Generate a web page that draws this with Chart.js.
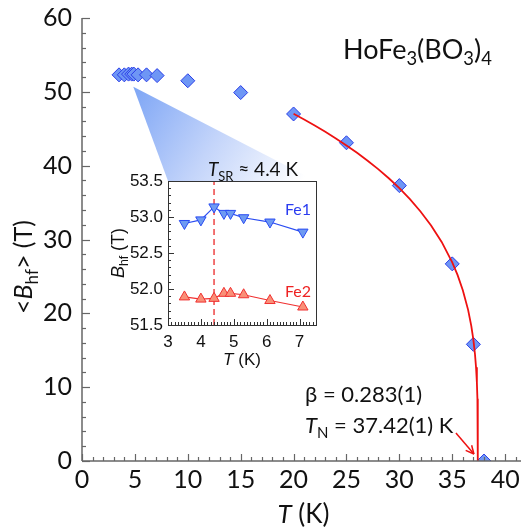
<!DOCTYPE html>
<html><head><meta charset="utf-8">
<script src="https://cdn.jsdelivr.net/npm/chart.js@4.4.1/dist/chart.umd.min.js"></script>
<style>
html,body{margin:0;padding:0;background:#fff;overflow:hidden;}
#wrap{position:relative;width:523px;height:529px;}
#main{position:absolute;left:0;top:0;width:523px;height:529px;}
#inset{position:absolute;left:100px;top:150px;width:230px;height:225px;}
</style></head><body>
<div id="wrap"><canvas id="main" width="523" height="529"></canvas><canvas id="inset" width="230" height="225"></canvas></div>
<script>
// ---- data ----
const mainT = [3.5, 4.0, 4.4, 4.7, 4.9, 5.3, 6.1, 7.1, 10, 15, 20, 25, 30, 35, 37, 38];
const mainB = [52.3, 52.3, 52.4, 52.4, 52.4, 52.3, 52.3, 52.2, 51.5, 49.9, 47.0, 43.1, 37.3, 26.7, 15.8, 0];
// fitted power-law curve (beta = 0.283, TN = 37.42 K)
const fitT = [20, 21, 22, 23, 24, 25, 26, 27, 28, 29, 30, 31, 32, 33, 34, 35, 35.5, 36, 36.5, 36.8, 37, 37.15, 37.25, 37.33, 37.38, 37.41, 37.42];
const fitB = [47.04, 46.26, 45.44, 44.59, 43.69, 42.74, 41.74, 40.67, 39.53, 38.29, 36.95, 35.46, 33.80, 31.91, 29.67, 26.91, 25.20, 23.14, 20.47, 18.30, 16.39, 14.46, 12.69, 10.60, 8.42, 5.69, 0];
const insetT = [3.5, 4.0, 4.4, 4.7, 4.9, 5.3, 6.1, 7.1];
const fe1B = [52.91, 52.96, 53.14, 53.05, 53.05, 52.99, 52.93, 52.79];
const fe2B = [51.89, 51.86, 51.87, 51.94, 51.94, 51.92, 51.84, 51.75];
const mainXTicks = [0, 5, 10, 15, 20, 25, 30, 35, 40];
const mainYTicks = [0, 10, 20, 30, 40, 50, 60];
const insetXTicks = [3, 4, 5, 6, 7];
const insetYTicks = [51.5, 52.0, 52.5, 53.0, 53.5];
const TSR = 4.4;

const FAM = "Lato, 'Open Sans', sans-serif";
const IFAM = "'Liberation Sans', Arial, sans-serif";

function fontFor(p, fs, fam) { const s = p.sub ? fs * 0.68 : fs; return (p.i ? 'italic ' : '') + s + 'px ' + fam; }
function drawRich(ctx, parts, x, y, fs, fam, color, align, rot) {
  ctx.save(); ctx.translate(x, y); if (rot) ctx.rotate(rot);
  ctx.fillStyle = color; ctx.textBaseline = 'alphabetic'; ctx.textAlign = 'left';
  let w = 0;
  for (const p of parts) { ctx.font = fontFor(p, fs, fam); w += ctx.measureText(p.t).width; }
  let cx = align === 'center' ? -w / 2 : (align === 'right' ? -w : 0);
  for (const p of parts) {
    ctx.font = fontFor(p, fs, fam);
    ctx.fillText(p.t, cx, p.sub ? fs * 0.24 : 0);
    cx += ctx.measureText(p.t).width;
  }
  ctx.restore();
}
function line(ctx, x1, y1, x2, y2) { ctx.beginPath(); ctx.moveTo(x1, y1); ctx.lineTo(x2, y2); ctx.stroke(); }

const pts = (xs, ys) => xs.map((x, i) => ({ x: x, y: ys[i] }));

// ---- inset chart ----
const INSET_OFF = { x: 100, y: 150 };
const insetPlugin = {
  id: 'insetDeco',
  beforeDatasetsDraw(chart) {
    const ctx = chart.ctx, a = chart.chartArea, xs = chart.scales.x;
    ctx.save();
    ctx.strokeStyle = '#ee4444'; ctx.lineWidth = 1.5; ctx.setLineDash([6, 4]);
    const px = xs.getPixelForValue(TSR);
    line(ctx, px, a.bottom, px, a.top);
    ctx.restore();
  },
  afterDraw(chart) {
    const ctx = chart.ctx, a = chart.chartArea, xs = chart.scales.x, ys = chart.scales.y;
    ctx.save();
    ctx.strokeStyle = '#333'; ctx.lineWidth = 1;
    ctx.strokeRect(Math.round(a.left) + 0.5, Math.round(a.top) + 0.5, Math.round(a.right - a.left), Math.round(a.bottom - a.top));
    for (let k = 30; k <= 75; k++) {
      const v = k / 10; const px = Math.round(xs.getPixelForValue(v)) + 0.5;
      const L = (k % 10 === 0) ? 6 : 3;
      line(ctx, px, a.bottom, px, a.bottom - L);
    }
    for (let k = 515; k <= 535; k++) {
      const v = k / 10; const py = Math.round(ys.getPixelForValue(v)) + 0.5;
      const L = (k % 5 === 0) ? 6 : 3;
      line(ctx, a.left, py, a.left + L, py);
    }
    ctx.restore();
    const cx = (a.left + a.right) / 2;
    drawRich(ctx, [{ t: 'T', i: true }, { t: 'SR', sub: true }, { t: ' \u2248 4.4 K' }], cx + 11, a.top - 5, 19, FAM, '#111', 'center');
    drawRich(ctx, [{ t: 'Fe1' }], a.left + 117, ys.getPixelForValue(53.05) + 2, 16, FAM, '#2a3cf0', 'left');
    drawRich(ctx, [{ t: 'Fe2' }], a.left + 117, ys.getPixelForValue(51.94) + 4, 16, FAM, '#ee2222', 'left');
    drawRich(ctx, [{ t: 'T', i: true }, { t: ' (K)' }], cx, a.bottom + 40, 17, IFAM, '#111', 'center');
    drawRich(ctx, [{ t: 'B', i: true }, { t: 'hf', sub: true }, { t: ' (T)' }], 24, (a.top + a.bottom) / 2, 18, IFAM, '#111', 'center', -Math.PI / 2);
  }
};
const insetChart = new Chart(document.getElementById('inset'), {
  type: 'scatter',
  data: {
    datasets: [
      { data: pts(insetT, fe1B), showLine: true, borderColor: '#2a4cf2', borderWidth: 1.2, pointStyle: 'triangle', rotation: 180,
        pointRadius: 6, pointBackgroundColor: '#6e9af2', pointBorderColor: '#2a4cf2', pointBorderWidth: 1 },
      { data: pts(insetT, fe2B), showLine: true, borderColor: '#f03030', borderWidth: 1.2, pointStyle: 'triangle',
        pointRadius: 6, pointBackgroundColor: '#f99078', pointBorderColor: '#f03030', pointBorderWidth: 1 }
    ]
  },
  options: {
    responsive: false, animation: false, devicePixelRatio: 1, events: [],
    layout: { autoPadding: false, padding: { top: 31, right: 14, left: 0, bottom: 0 } },
    plugins: { legend: { display: false }, tooltip: { enabled: false } },
    scales: {
      x: { type: 'linear', min: 3, max: 7.5, grid: { display: false, drawTicks: false }, border: { display: false },
        afterFit(s) { s.height = 50; s.paddingLeft = 0; s.paddingRight = 0; },
        afterBuildTicks(s) { s.ticks = insetXTicks.map(v => ({ value: v })); },
        ticks: { padding: 7, color: '#111', font: { family: IFAM, size: 17 }, maxRotation: 0, callback: v => String(v) } },
      y: { type: 'linear', min: 51.5, max: 53.5, grid: { display: false, drawTicks: false }, border: { display: false },
        afterFit(s) { s.width = 68; s.paddingTop = 0; s.paddingBottom = 0; },
        afterBuildTicks(s) { s.ticks = insetYTicks.map(v => ({ value: v })); },
        ticks: { padding: 5, color: '#111', font: { family: IFAM, size: 17 }, callback: v => Number(v).toFixed(1) } }
    }
  },
  plugins: [insetPlugin]
});

// ---- main chart ----
const mainPlugin = {
  id: 'mainDeco',
  beforeDatasetsDraw(chart) {
    const ctx = chart.ctx, xs = chart.scales.x, ys = chart.scales.y;
    const ia = insetChart.chartArea;
    const ax = xs.getPixelForValue(4.85), ay = ys.getPixelForValue(50.7);
    const lx = ia.left + INSET_OFF.x, rx = ia.right + INSET_OFF.x, ty = ia.top + INSET_OFF.y;
    const g = ctx.createLinearGradient(ax, ay, rx - 20, ty + 10);
    g.addColorStop(0, 'rgba(125,165,245,1)');
    g.addColorStop(0.5, 'rgba(195,212,250,1)');
    g.addColorStop(1, 'rgba(255,255,255,1)');
    ctx.save();
    ctx.fillStyle = g;
    ctx.beginPath(); ctx.moveTo(ax, ay); ctx.lineTo(lx, ty); ctx.lineTo(rx, ty); ctx.closePath(); ctx.fill();
    ctx.restore();
  },
  afterDraw(chart) {
    const ctx = chart.ctx, a = chart.chartArea, xs = chart.scales.x, ys = chart.scales.y;
    ctx.save();
    ctx.strokeStyle = '#666'; ctx.lineWidth = 1.5;
    line(ctx, a.left, a.top, a.left, a.bottom);
    line(ctx, a.left, a.bottom, a.right, a.bottom);
    ctx.lineWidth = 1.2;
    for (let v = 0; v <= 41; v++) {
      const px = Math.round(xs.getPixelForValue(v)) + 0.5;
      const L = v % 5 === 0 ? 7 : 4;
      line(ctx, px, a.bottom, px, a.bottom - L);
    }
    for (let v = 0; v <= 60; v += 2) {
      const py = Math.round(ys.getPixelForValue(v)) + 0.5;
      const L = v % 10 === 0 ? 8 : 4;
      line(ctx, a.left, py, a.left + L, py);
    }
    // arrow to TN
    const x1 = xs.getPixelForValue(35.35), y1 = ys.getPixelForValue(3.8);
    const x2 = xs.getPixelForValue(37.05), y2 = ys.getPixelForValue(0.95);
    ctx.strokeStyle = '#ee1111'; ctx.lineWidth = 1.5;
    line(ctx, x1, y1, x2, y2);
    const ang = Math.atan2(y2 - y1, x2 - x1), hl = 9;
    line(ctx, x2, y2, x2 - hl * Math.cos(ang - 0.45), y2 - hl * Math.sin(ang - 0.45));
    line(ctx, x2, y2, x2 - hl * Math.cos(ang + 0.45), y2 - hl * Math.sin(ang + 0.45));
    ctx.restore();
    // texts
    drawRich(ctx, [{ t: 'HoFe' }, { t: '3', sub: true }, { t: '(BO' }, { t: '3', sub: true }, { t: ')' }, { t: '4', sub: true }], 343, 59, 27, FAM, '#111', 'left');
    drawRich(ctx, [{ t: '\u03b2 = 0.283(1)' }], 305, 402, 22, FAM, '#111', 'left');
    drawRich(ctx, [{ t: 'T', i: true }, { t: 'N', sub: true }, { t: ' = 37.42(1) K' }], 305, 433, 22, FAM, '#111', 'left');
    drawRich(ctx, [{ t: 'T', i: true }, { t: ' (K)' }], (a.left + a.right) / 2 + 2, 523, 26, FAM, '#111', 'center');
    drawRich(ctx, [{ t: '<' }, { t: 'B', i: true }, { t: 'hf', sub: true }, { t: '> (T)' }], 32, 267, 25, FAM, '#111', 'center', -Math.PI / 2);
  }
};
new Chart(document.getElementById('main'), {
  type: 'scatter',
  data: {
    datasets: [
      { data: pts(fitT, fitB), showLine: true, borderColor: '#ee1111', borderWidth: 1.8, pointRadius: 0, tension: 0 },
      { data: pts(mainT, mainB), pointStyle: 'rectRot', pointRadius: 7, pointBackgroundColor: '#6e96f5', pointBorderColor: '#2a3ee8', pointBorderWidth: 1 }
    ]
  },
  options: {
    responsive: false, animation: false, devicePixelRatio: 1, events: [],
    layout: { autoPadding: false, padding: { top: 18, right: 2, left: 0, bottom: 0 } },
    plugins: { legend: { display: false }, tooltip: { enabled: false } },
    scales: {
      x: { type: 'linear', min: 0, max: 41.5, grid: { display: false, drawTicks: false }, border: { display: false },
        afterFit(s) { s.height = 68; s.paddingLeft = 0; s.paddingRight = 0; },
        afterBuildTicks(s) { s.ticks = mainXTicks.map(v => ({ value: v })); },
        ticks: { padding: 4, color: '#111', font: { family: FAM, size: 25 }, maxRotation: 0 } },
      y: { type: 'linear', min: 0, max: 60, grid: { display: false, drawTicks: false }, border: { display: false },
        afterFit(s) { s.width = 82; s.paddingTop = 0; s.paddingBottom = 0; },
        afterBuildTicks(s) { s.ticks = mainYTicks.map(v => ({ value: v })); },
        ticks: { padding: 10, color: '#111', font: { family: FAM, size: 25 } } }
    }
  },
  plugins: [mainPlugin]
});
</script>
</body></html>
